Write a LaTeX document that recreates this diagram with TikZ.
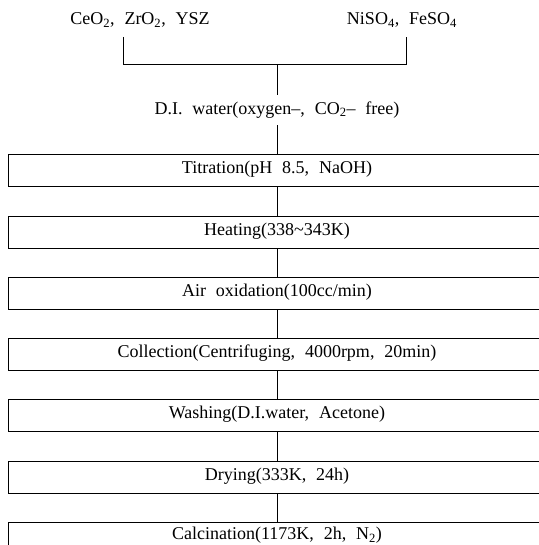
\documentclass[tikz,border=0pt]{standalone}
\usepackage{fontspec}
\setmainfont[WordSpace=2.2]{Liberation Serif}
\usetikzlibrary{positioning}

\begin{document}
\begin{tikzpicture}[
  x=1pt, y=-1pt,
  font=\fontsize{18}{21}\selectfont,
  stepbox/.style={
    draw, line width=1pt, inner sep=0pt,
    minimum width=538pt, minimum height=32pt,
    text height=12pt, text depth=6pt
  },
  link/.style={line width=1pt}
]
  \useasboundingbox (0,0) rectangle (538,545);

  \node (nceo)  at (140,20) {CeO\textsubscript{2}, ZrO\textsubscript{2}, YSZ};
  \node (nniso) at (402,20) {NiSO\textsubscript{4}, FeSO\textsubscript{4}};
  \node[inner ysep=7pt] (ndiw) at (277,110)
    {D.I. water(oxygen–, CO\textsubscript{2}– free)};

  \node[stepbox] (ntitr) at (277,171) {Titration(pH 8.5, NaOH)};
  \node[stepbox, below=28.2pt of ntitr] (nheat) {Heating(338\textasciitilde343K)};
  \node[stepbox, below=28.2pt of nheat] (nair)  {Air oxidation(100cc/min)};
  \node[stepbox, below=28.2pt of nair]  (ncoll) {Collection(Centrifuging, 4000rpm, 20min)};
  \node[stepbox, below=28.2pt of ncoll] (nwash) {Washing(D.I.water, Acetone)};
  \node[stepbox, below=28.2pt of nwash] (ndry)  {Drying(333K, 24h)};
  \node[stepbox, below=28.2pt of ndry, text depth=9pt] (ncalc)
    {Calcination(1173K, 2h, N\textsubscript{2})};

  % bracket joining the two feeds
  \coordinate (jlefttop)  at (123,37);
  \coordinate (jrighttop) at (406,37);
  \coordinate (jleft)  at (123,65);
  \coordinate (jright) at (406,65);
  \coordinate (jmid)   at (277,65);
  \draw[link] (jlefttop) -- (jleft) -- (jright) -- (jrighttop);
  \draw[link] (jmid) -- (ndiw);
  \draw[link] (ndiw) -- (ntitr);

  \foreach \a/\b in {ntitr/nheat, nheat/nair, nair/ncoll, ncoll/nwash, nwash/ndry, ndry/ncalc}
    \draw[link] (\a) -- (\b);
\end{tikzpicture}
\end{document}
